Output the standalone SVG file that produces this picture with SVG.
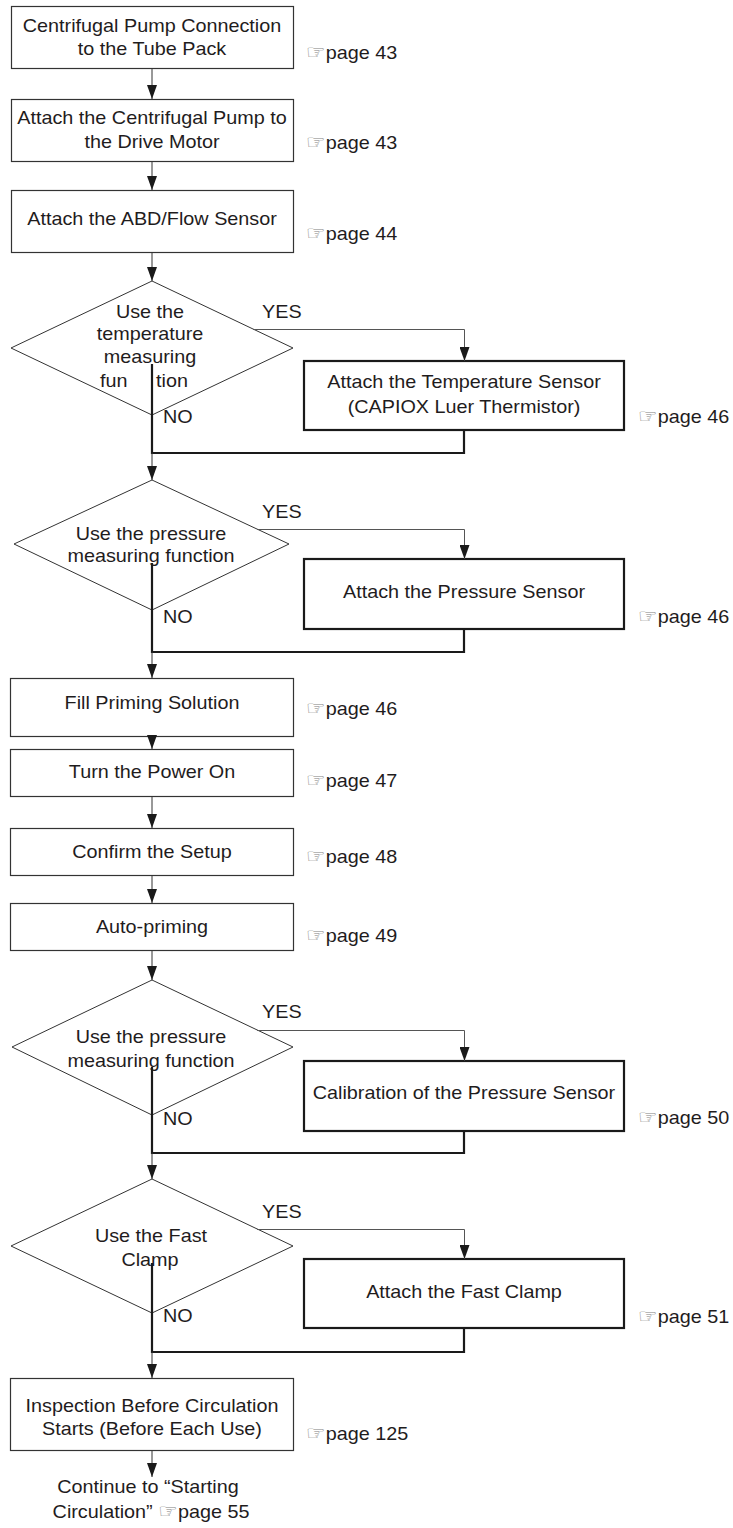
<svg xmlns="http://www.w3.org/2000/svg" width="733" height="1528" viewBox="0 0 733 1528">
<style>
text{font-family:"Liberation Sans",Arial,sans-serif;font-size:18px;fill:#1f1c1d}
.c{text-anchor:middle}
.hand{font-family:"DejaVu Sans",sans-serif;font-size:20px;fill:#808080}
.box{fill:#fff;stroke:#333;stroke-width:1.2}
.bbox{fill:#fff;stroke:#1a1a1a;stroke-width:2.2}
.dia{fill:#fff;stroke:#333;stroke-width:1}
.ln{fill:none;stroke:#333;stroke-width:1}
.yes{fill:none;stroke:#555;stroke-width:1}
.thk{fill:none;stroke:#1a1a1a;stroke-width:2.2}
</style>
<defs>
<marker id="ah" viewBox="0 0 14 10" refX="14" refY="5" markerWidth="14" markerHeight="10" markerUnits="userSpaceOnUse" orient="auto">
<path d="M0,0 L14,5 L0,10 z" fill="#1a1a1a"/>
</marker>
</defs>

<g id="n1">
<rect class="box" x="11.5" y="6.5" width="282" height="62"/>
<text class="c" transform="translate(152,32) scale(1.1,1)">Centrifugal Pump Connection</text>
<text class="c" transform="translate(152,55) scale(1.1,1)">to the Tube Pack</text>
<text transform="translate(306,59) scale(1.1,1)"><tspan class="hand">☞</tspan>page 43</text>
</g>
<g id="n2">
<rect class="box" x="11.5" y="99.5" width="282" height="62"/>
<text class="c" transform="translate(152,124) scale(1.1,1)">Attach the Centrifugal Pump to</text>
<text class="c" transform="translate(152,148) scale(1.1,1)">the Drive Motor</text>
<text transform="translate(306,149) scale(1.1,1)"><tspan class="hand">☞</tspan>page 43</text>
</g>
<g id="n3">
<rect class="box" x="11.5" y="190.5" width="282" height="62"/>
<text class="c" transform="translate(152,225) scale(1.1,1)">Attach the ABD/Flow Sensor</text>
<text transform="translate(306,240) scale(1.1,1)"><tspan class="hand">☞</tspan>page 44</text>
</g>
<g id="d1">
<polygon class="dia" points="152,281 293,348 152,415 11,348"/>
<text class="c" transform="translate(150,318) scale(1.1,1)">Use the</text>
<text class="c" transform="translate(150,340) scale(1.1,1)">temperature</text>
<text class="c" transform="translate(150,363) scale(1.1,1)">measuring</text>
<text transform="translate(100,387) scale(1.1,1)" style="word-spacing:21px">fun tion</text>
<text transform="translate(262,318) scale(1.1,1)">YES</text>
<text transform="translate(163,423) scale(1.1,1)">NO</text>
</g>
<g id="n4">
<rect class="bbox" x="304" y="361" width="320" height="69"/>
<text class="c" transform="translate(464,388) scale(1.1,1)">Attach the Temperature Sensor</text>
<text class="c" transform="translate(464,413) scale(1.1,1)">(CAPIOX Luer Thermistor)</text>
<text transform="translate(638,423) scale(1.1,1)"><tspan class="hand">☞</tspan>page 46</text>
</g>
<g id="d2">
<polygon class="dia" points="152,480 289,544 152,610 14,544"/>
<text class="c" transform="translate(151,540) scale(1.1,1)">Use the pressure</text>
<text class="c" transform="translate(151,562) scale(1.1,1)">measuring function</text>
<text transform="translate(262,518) scale(1.1,1)">YES</text>
<text transform="translate(163,623) scale(1.1,1)">NO</text>
</g>
<g id="n5">
<rect class="bbox" x="304" y="559" width="320" height="70"/>
<text class="c" transform="translate(464,598) scale(1.1,1)">Attach the Pressure Sensor</text>
<text transform="translate(638,623) scale(1.1,1)"><tspan class="hand">☞</tspan>page 46</text>
</g>
<g id="n6">
<rect class="box" x="10.5" y="678.5" width="283" height="58"/>
<text class="c" transform="translate(152,709) scale(1.1,1)">Fill Priming Solution</text>
<text transform="translate(306,715) scale(1.1,1)"><tspan class="hand">☞</tspan>page 46</text>
</g>
<g id="n7">
<rect class="box" x="10.5" y="749.5" width="283" height="47"/>
<text class="c" transform="translate(152,778) scale(1.1,1)">Turn the Power On</text>
<text transform="translate(306,787) scale(1.1,1)"><tspan class="hand">☞</tspan>page 47</text>
</g>
<g id="n8">
<rect class="box" x="10.5" y="828.5" width="283" height="47"/>
<text class="c" transform="translate(152,858) scale(1.1,1)">Confirm the Setup</text>
<text transform="translate(306,863) scale(1.1,1)"><tspan class="hand">☞</tspan>page 48</text>
</g>
<g id="n9">
<rect class="box" x="10.5" y="903.5" width="283" height="47"/>
<text class="c" transform="translate(152,933) scale(1.1,1)">Auto-priming</text>
<text transform="translate(306,942) scale(1.1,1)"><tspan class="hand">☞</tspan>page 49</text>
</g>
<g id="d3">
<polygon class="dia" points="152,980 293,1047 152,1115 12,1047"/>
<text class="c" transform="translate(151,1043) scale(1.1,1)">Use the pressure</text>
<text class="c" transform="translate(151,1067) scale(1.1,1)">measuring function</text>
<text transform="translate(262,1018) scale(1.1,1)">YES</text>
<text transform="translate(163,1125) scale(1.1,1)">NO</text>
</g>
<g id="n10">
<rect class="bbox" x="304" y="1061" width="320" height="70"/>
<text class="c" transform="translate(464,1099) scale(1.1,1)">Calibration of the Pressure Sensor</text>
<text transform="translate(638,1124) scale(1.1,1)"><tspan class="hand">☞</tspan>page 50</text>
</g>
<g id="d4">
<polygon class="dia" points="152,1179 293,1246 152,1313 11,1246"/>
<text class="c" transform="translate(151,1242) scale(1.1,1)">Use the Fast</text>
<text class="c" transform="translate(150,1266) scale(1.1,1)">Clamp</text>
<text transform="translate(262,1218) scale(1.1,1)">YES</text>
<text transform="translate(163,1322) scale(1.1,1)">NO</text>
</g>
<g id="n11">
<rect class="bbox" x="304" y="1259" width="320" height="69"/>
<text class="c" transform="translate(464,1298) scale(1.1,1)">Attach the Fast Clamp</text>
<text transform="translate(638,1323) scale(1.1,1)"><tspan class="hand">☞</tspan>page 51</text>
</g>
<g id="n12">
<rect class="box" x="10.5" y="1378.5" width="283" height="72"/>
<text class="c" transform="translate(152,1412) scale(1.1,1)">Inspection Before Circulation</text>
<text class="c" transform="translate(152,1435) scale(1.1,1)">Starts (Before Each Use)</text>
<text transform="translate(306,1440) scale(1.1,1)"><tspan class="hand">☞</tspan>page 125</text>
</g>
<g id="n13">
<text class="c" transform="translate(148,1493) scale(1.1,1)">Continue to “Starting</text>
<text class="c" transform="translate(151,1518) scale(1.1,1)">Circulation” <tspan class="hand">☞</tspan>page 55</text>
</g>

<g id="connectors">
<path class="ln" d="M152,69 V99" marker-end="url(#ah)"/>
<path class="ln" d="M152,162 V190" marker-end="url(#ah)"/>
<path class="ln" d="M152,252 V281" marker-end="url(#ah)"/>
<path class="yes" d="M253,329.5 H464.5 V361" marker-end="url(#ah)"/>
<path class="thk" d="M152,364 V453 H464 V430"/>
<path class="ln" d="M152,453 V480" marker-end="url(#ah)"/>
<path class="yes" d="M257,529.5 H464.5 V559" marker-end="url(#ah)"/>
<path class="thk" d="M152,563 V652 H464 V629"/>
<path class="ln" d="M152,652 V678" marker-end="url(#ah)"/>
<path class="ln" d="M152,737 V749" marker-end="url(#ah)"/>
<path class="ln" d="M152,797 V828" marker-end="url(#ah)"/>
<path class="ln" d="M152,876 V903" marker-end="url(#ah)"/>
<path class="ln" d="M152,951 V980" marker-end="url(#ah)"/>
<path class="yes" d="M257,1030.5 H464.5 V1061" marker-end="url(#ah)"/>
<path class="thk" d="M152,1067 V1153 H464 V1131"/>
<path class="ln" d="M152,1153 V1179" marker-end="url(#ah)"/>
<path class="yes" d="M257,1229.5 H464.5 V1259" marker-end="url(#ah)"/>
<path class="thk" d="M152,1263 V1352 H464 V1328"/>
<path class="ln" d="M152,1352 V1378" marker-end="url(#ah)"/>
<path class="ln" d="M152,1451 V1477" marker-end="url(#ah)"/>
</g>
</svg>
